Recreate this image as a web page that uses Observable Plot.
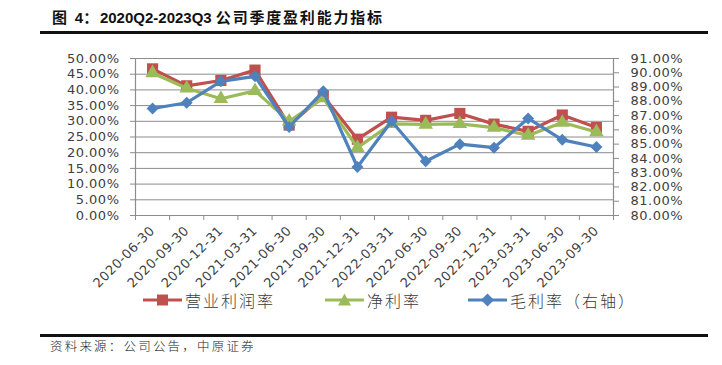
<!DOCTYPE html>
<html>
<head>
<meta charset="utf-8">
<script src="https://cdn.jsdelivr.net/npm/d3@7"></script>
<script src="https://cdn.jsdelivr.net/npm/@observablehq/plot@0.6"></script>
<style>
  html, body { margin: 0; padding: 0; background: #fff; }
  #wrap { position: relative; width: 722px; height: 365px; overflow: hidden; }
  #title { position: absolute; left: 52px; top: 8px; font-family: "Liberation Sans", "Noto Sans CJK SC", sans-serif; font-weight: 700; font-size: 15px; color: #111; white-space: nowrap; line-height: 20px; }
  #title .cn { letter-spacing: 1.8px; }
  .rule { position: absolute; left: 40px; width: 668px; height: 3px; background: #111; }
  #chart { position: absolute; left: 0; top: 40px; }
  .leg { position: absolute; top: 290px; height: 20px; display: flex; align-items: center; font-family: "Noto Sans CJK SC", sans-serif; font-weight: 300; font-size: 16px; letter-spacing: 2px; color: #3a3a3a; white-space: nowrap; }
  .leg svg { margin-right: 3px; }
  #source { position: absolute; left: 50px; top: 337px; font-family: "Noto Sans CJK SC", sans-serif; font-weight: 300; font-size: 12.5px; letter-spacing: 2.2px; color: #222; line-height: 18px; white-space: nowrap; }
</style>
</head>
<body>
<div id="wrap">
  <div id="title"><span class="cn">图 </span>4<span class="cn">：</span>2020Q2-2023Q3 <span class="cn">公司季度盈利能力指标</span></div>
  <div class="rule" style="top:31px"></div>
  <div id="chart"></div>
  <div id="legend"></div>
  <div class="rule" style="top:334px"></div>
  <div id="source">资料来源：公司公告，中原证券</div>
</div>
<script>
const dates = ["2020-06-30","2020-09-30","2020-12-31","2021-03-31","2021-06-30","2021-09-30","2021-12-31","2022-03-31","2022-06-30","2022-09-30","2022-12-31","2023-03-31","2023-06-30","2023-09-30"];
const operatingMargin = [0.467, 0.413, 0.430, 0.463, 0.288, 0.381, 0.243, 0.313, 0.303, 0.325, 0.291, 0.268, 0.320, 0.280];
const netMargin = [0.454, 0.405, 0.372, 0.397, 0.300, 0.374, 0.216, 0.292, 0.290, 0.292, 0.280, 0.255, 0.296, 0.266];
const grossMargin = [0.875, 0.879, 0.894, 0.8975, 0.862, 0.887, 0.834, 0.866, 0.838, 0.850, 0.8475, 0.868, 0.853, 0.848];
const leftTicks = [0, 0.05, 0.10, 0.15, 0.20, 0.25, 0.30, 0.35, 0.40, 0.45, 0.50];
const rightTicks = [0.80, 0.81, 0.82, 0.83, 0.84, 0.85, 0.86, 0.87, 0.88, 0.89, 0.90, 0.91];
const seriesNames = ["营业利润率", "净利率", "毛利率（右轴）"];
const colors = ["#C0504D", "#9BBB59", "#4F81BD"];

// right axis (80%–91%) mapped onto left scale (0–50%)
const rMin = rightTicks[0], rMax = rightTicks[rightTicks.length - 1];
const lMax = leftTicks[leftTicks.length - 1];
const toLeft = v => (v - rMin) / (rMax - rMin) * lMax;
const fromLeft = v => rMin + v / lMax * (rMax - rMin);

const idx = dates.map((d, i) => i);
const bounds = idx.map(i => i - 0.5).concat([dates.length - 0.5]);
const rows = (arr, f = v => v) => arr.map((v, i) => ({i, v: f(v)}));

const pct = v => (v * 100).toFixed(2) + "%";

const chart = Plot.plot({
  width: 722,
  height: 250,
  marginTop: 18,
  marginBottom: 75,
  marginLeft: 135,
  marginRight: 109,
  style: {fontFamily: "DejaVu Sans, sans-serif", fontSize: "13px", color: "#404040", letterSpacing: "0.5px"},
  x: {type: "linear", domain: [-0.5, dates.length - 0.5], axis: null},
  y: {domain: [0, lMax], axis: null},
  marks: [
    Plot.gridY(leftTicks, {stroke: "#8c8c8c", strokeOpacity: 1, strokeWidth: 1}),
    Plot.ruleX([bounds[0], bounds[bounds.length - 1]], {stroke: "#8c8c8c", strokeWidth: 1.2}),
    Plot.ruleY([0], {stroke: "#8c8c8c", strokeWidth: 1.2}),
    Plot.axisY(leftTicks, {anchor: "left", tickSize: 5, tickPadding: 11, stroke: "#8c8c8c", tickFormat: pct, label: null, fontSize: 13}),
    Plot.axisY(rightTicks.map(toLeft), {anchor: "right", tickSize: 5, tickPadding: 12, stroke: "#8c8c8c", tickFormat: d => pct(fromLeft(d)), label: null, fontSize: 13}),
    Plot.axisX(bounds, {anchor: "bottom", tickSize: 5, stroke: "#8c8c8c", tickFormat: () => "", label: null}),
    Plot.axisX(idx, {anchor: "bottom", tickSize: 0, tickPadding: 13, tickRotate: -45, tickFormat: i => dates[i], label: null, fontSize: 13}),

    Plot.line(rows(operatingMargin), {x: "i", y: "v", stroke: colors[0], strokeWidth: 3.2}),
    Plot.dot(rows(operatingMargin), {x: "i", y: "v", symbol: "square", r: 6.3, fill: colors[0], stroke: null}),
    Plot.line(rows(netMargin), {x: "i", y: "v", stroke: colors[1], strokeWidth: 3.2}),
    Plot.dot(rows(netMargin), {x: "i", y: "v", symbol: "triangle", r: 5.4, fill: colors[1], stroke: null}),
    Plot.line(rows(grossMargin, toLeft), {x: "i", y: "v", stroke: colors[2], strokeWidth: 3.2}),
    Plot.dot(rows(grossMargin, toLeft), {x: "i", y: "v", symbol: "diamond2", r: 5.4, fill: colors[2], stroke: null})
  ]
});
document.getElementById("chart").appendChild(chart);

// legend
const legendX = [143, 325, 468];
const symbolPaths = [
  'M14 1.5h11v11h-11z',
  'M19.5 0.5 L26 12.5 L13 12.5 Z',
  'M19.5 0.5 L26 7 L19.5 13.5 L13 7 Z'
];
const legend = document.getElementById("legend");
seriesNames.forEach((name, k) => {
  const div = document.createElement("div");
  div.className = "leg";
  div.style.left = legendX[k] + "px";
  div.innerHTML = `<svg width="39" height="14" viewBox="0 0 39 14"><line x1="0" y1="7" x2="39" y2="7" stroke="${colors[k]}" stroke-width="3"/><path d="${symbolPaths[k]}" fill="${colors[k]}"/></svg><span>${name}</span>`;
  legend.appendChild(div);
});
</script>
</body>
</html>
